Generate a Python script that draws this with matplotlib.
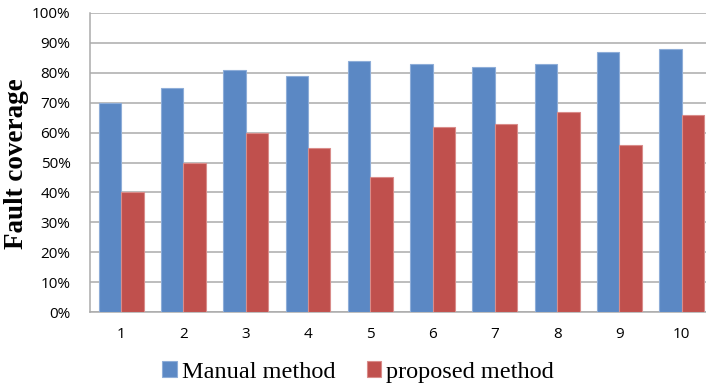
import matplotlib
matplotlib.use("Agg")
import matplotlib.pyplot as plt
import numpy as np
from matplotlib.ticker import FuncFormatter

categories = ["1", "2", "3", "4", "5", "6", "7", "8", "9", "10"]
manual = [70, 75, 81, 79, 84, 83, 82, 83, 87, 88]
proposed = [40, 50, 60, 55, 45, 62, 63, 67, 56, 66]

fig = plt.figure(figsize=(7.06, 3.86), dpi=100)
ax = fig.add_axes([90/706, 74/386, (706-90)/706, (312-13)/386])

x = np.arange(1, len(categories) + 1)
w = 0.36
ax.bar(x - w/2, manual, w, color="#5B88C4", edgecolor="#8EADD8", linewidth=0.8, label="Manual method", zorder=3)
ax.bar(x + w/2, proposed, w, color="#C0504D", edgecolor="#D98C8A", linewidth=0.8, label="proposed method", zorder=3)

ax.set_xlim(0.5, 10.39)
ax.set_ylim(0, 100)
ax.set_yticks(range(0, 101, 10))
ax.yaxis.set_major_formatter(FuncFormatter(lambda v, p: f"{int(v)}%"))
ax.set_xticks(x)
ax.set_xticklabels(categories)
ax.grid(axis="y", color="#ABABAB", linewidth=1.1, zorder=0)
for s in ["top", "right"]:
    ax.spines[s].set_visible(False)
for s in ["left", "bottom"]:
    ax.spines[s].set_color("#ABABAB")
    ax.spines[s].set_linewidth(1.1)
ax.tick_params(axis="both", length=0, labelsize=11, colors="#000000")
ax.tick_params(axis="y", pad=14)
ax.tick_params(axis="x", pad=11)
for lab in ax.get_xticklabels() + ax.get_yticklabels():
    lab.set_family("Open Sans")

fig.text(17/706, 1 - 164/386, "Fault coverage", rotation=90, ha="center", va="center",
         family="Liberation Serif", fontweight="bold", fontsize=19.5)

leg = fig.legend(loc="center", bbox_to_anchor=(358/706, 1 - 372/386), ncol=2, frameon=False,
                 prop={"family": "Liberation Serif", "size": 17.5}, handlelength=0.6, handleheight=0.6,
                 handletextpad=0.2, columnspacing=1.3)
fig.savefig("out.png", dpi=100)
